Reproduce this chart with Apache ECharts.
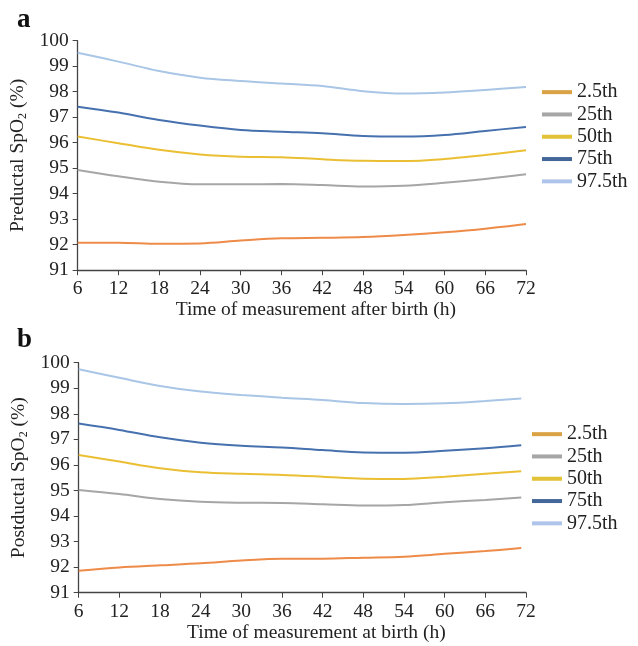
<!DOCTYPE html>
<html>
<head>
<meta charset="utf-8">
<script src="https://cdn.jsdelivr.net/npm/echarts@6/dist/echarts.min.js"></script>
<style>
  html, body { margin: 0; padding: 0; background: #fff; }
  #chart { width: 638px; height: 646px; }
</style>
</head>
<body>
<div id="chart"></div>
<script>
// horas de medida
const hoursA = [6, 12, 18, 24, 30, 36, 42, 48, 54, 60, 66, 72];
const hoursB = [6, 12, 18, 24, 30, 36, 42, 48, 54, 60, 66, 71.3];
const percentiles = ['2.5th', '25th', '50th', '75th', '97.5th'];

// a: preductal
const p2A = [92.08, 92.08, 92.04, 92.05, 92.16, 92.25, 92.27, 92.3, 92.38, 92.49, 92.63, 92.81];
const p25A = [94.93, 94.68, 94.47, 94.37, 94.37, 94.38, 94.34, 94.28, 94.31, 94.43, 94.58, 94.76];
const p50A = [96.24, 95.98, 95.72, 95.54, 95.45, 95.43, 95.35, 95.29, 95.28, 95.36, 95.52, 95.7];
const p75A = [97.41, 97.18, 96.89, 96.67, 96.5, 96.43, 96.37, 96.26, 96.24, 96.3, 96.46, 96.62];
const p975A = [99.53, 99.18, 98.81, 98.55, 98.42, 98.32, 98.22, 98.02, 97.93, 97.97, 98.07, 98.18];

// b: postductal
const p2B = [91.86, 91.99, 92.07, 92.15, 92.26, 92.33, 92.33, 92.37, 92.41, 92.52, 92.63, 92.75];
const p25B = [95.02, 94.86, 94.67, 94.56, 94.52, 94.51, 94.46, 94.41, 94.43, 94.54, 94.63, 94.73];
const p50B = [96.39, 96.13, 95.87, 95.71, 95.65, 95.61, 95.54, 95.46, 95.45, 95.54, 95.65, 95.75];
const p75B = [97.62, 97.37, 97.08, 96.87, 96.75, 96.68, 96.58, 96.49, 96.48, 96.55, 96.65, 96.77];
const p975B = [99.74, 99.41, 99.09, 98.87, 98.74, 98.63, 98.54, 98.42, 98.38, 98.41, 98.5, 98.6];

const xTicks = ['6', '12', '18', '24', '30', '36', '42', '48', '54', '60', '66', '72'];

const LINE_COLOR = ['#EE8B48', '#A6A6A6', '#EBBF33', '#4671AE', '#A9C6E6'];
const LEGEND_COLOR = ['#D9A244', '#A6A6A6', '#E2C236', '#44679A', '#AFC4EA'];

const FONT = '"Liberation Serif", "DejaVu Serif", serif';
const FS = 19.5;
const AXIS_COLOR = '#444';

const myChart = echarts.init(document.getElementById('chart'), null, { renderer: 'canvas' });

function pairs(hours, vals) {
	return hours.map((h, i) => [h, vals[i]]);
}

function makeX(gridIndex, name, gap) {
	return {
		type: 'value',
		gridIndex,
		min: 6,
		max: 72,
		interval: 6,
		name,
		nameLocation: 'middle',
		nameGap: gap,
		nameTextStyle: { fontFamily: FONT, fontSize: FS, color: '#222', padding: [0, 0, 0, 28] },
		axisLine: { lineStyle: { color: AXIS_COLOR, width: 1.3 } },
		axisTick: { show: true, length: 5, lineStyle: { color: AXIS_COLOR } },
		axisLabel: {
			fontFamily: FONT, fontSize: FS, color: '#222', margin: 9,
			formatter: (v) => (xTicks.includes(String(v)) ? String(v) : ''),
		},
		splitLine: { show: false },
	};
}

function makeY(gridIndex, label) {
	return {
		type: 'value',
		gridIndex,
		min: 91,
		max: 100,
		interval: 1,
		name: '{a|' + label + ' SpO}{s|2}{a| (%)}',
		nameLocation: 'middle',
		nameRotate: 90,
		nameGap: 37,
		nameTextStyle: {
			fontFamily: FONT, fontSize: FS, color: '#222',
			rich: {
				a: { fontFamily: FONT, fontSize: FS, color: '#222' },
				s: { fontFamily: FONT, fontSize: 12, color: '#222', verticalAlign: 'bottom', padding: [9, 0, 0, 0] },
			},
		},
		axisLine: { show: true, lineStyle: { color: AXIS_COLOR, width: 1.3 } },
		axisTick: { show: true, length: 5, lineStyle: { color: AXIS_COLOR } },
		axisLabel: { fontFamily: FONT, fontSize: FS, color: '#222', margin: 9 },
		splitLine: { show: false },
	};
}

const seriesList = [];
const setsA = [p2A, p25A, p50A, p75A, p975A];
const setsB = [p2B, p25B, p50B, p75B, p975B];
percentiles.forEach((name, i) => {
	seriesList.push({
		type: 'line', name, xAxisIndex: 0, yAxisIndex: 0,
		data: pairs(hoursA, setsA[i]), smooth: 0.35, showSymbol: false,
		lineStyle: { color: LINE_COLOR[i], width: 2 }, itemStyle: { color: LINE_COLOR[i] },
	});
	seriesList.push({
		type: 'line', name, xAxisIndex: 1, yAxisIndex: 1,
		data: pairs(hoursB, setsB[i]), smooth: 0.35, showSymbol: false,
		lineStyle: { color: LINE_COLOR[i], width: 2 }, itemStyle: { color: LINE_COLOR[i] },
	});
});

const legendData = percentiles.map((name, i) => ({ name, itemStyle: { color: LEGEND_COLOR[i] } }));
const legendBase = {
	orient: 'vertical',
	icon: 'rect',
	itemWidth: 30,
	itemHeight: 4,
	itemGap: 0,
	padding: 0,
	selectedMode: false,
	textStyle: { fontFamily: FONT, fontSize: 20, color: '#222', lineHeight: 22.3 },
	data: legendData,
};

const option = {
	animation: false,
	backgroundColor: '#fff',
	title: [
		{ text: 'a', left: 12, top: 2, textStyle: { fontFamily: FONT, fontSize: 27, fontWeight: 'bold', color: '#111' } },
		{ text: 'b', left: 12, top: 322, textStyle: { fontFamily: FONT, fontSize: 27, fontWeight: 'bold', color: '#111' } },
	],
	grid: [
		{ left: 77, right: 112, top: 40.7, height: 229.5 },
		{ left: 78.7, right: 112, top: 362.7, height: 230 },
	],
	legend: [
		Object.assign({}, legendBase, { left: 542, top: 81 }),
		Object.assign({}, legendBase, { left: 532, top: 423 }),
	],
	xAxis: [
		makeX(0, 'Time of measurement after birth (h)', 18),
		makeX(1, 'Time of measurement at birth (h)', 29),
	],
	yAxis: [
		makeY(0, 'Preductal'),
		makeY(1, 'Postductal'),
	],
	series: seriesList,
};

myChart.setOption(option);
</script>
</body>
</html>
